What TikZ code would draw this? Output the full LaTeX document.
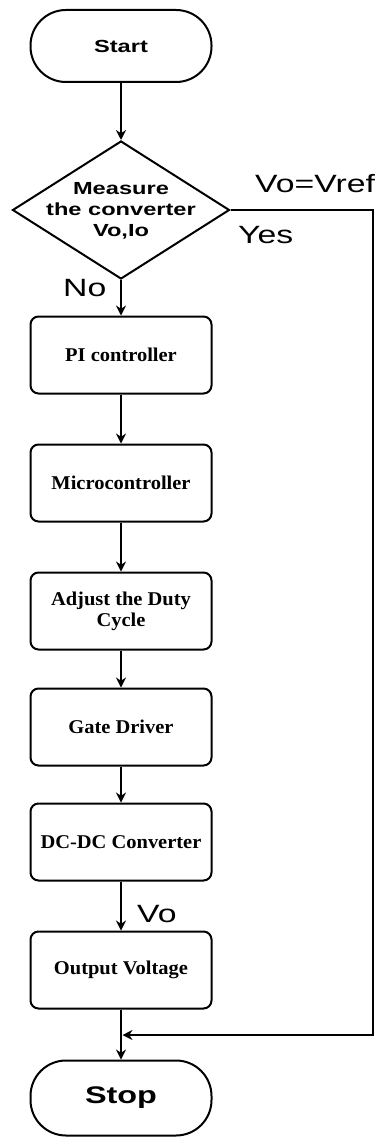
\documentclass[tikz,border=0pt]{standalone}
\usepackage{fontspec}
\setmainfont{Liberation Serif}
\newfontfamily\flowsans[FakeStretch=1.35]{Liberation Sans}
\newfontfamily\flowserif[FakeStretch=1.05]{Liberation Serif}
\usetikzlibrary{arrows.meta,shapes.geometric}

\tikzset{
        boxstep/.style={draw, line width=2pt, rounded corners=8pt, minimum width=181pt, minimum height=77pt, inner sep=2pt, align=center, font=\flowserif\bfseries\fontsize{19.5}{21}\selectfont},
        terminal/.style={draw, line width=2pt, rounded corners=35.5pt, minimum width=181pt, inner sep=0pt},
        decide/.style={draw, diamond, line width=2pt, minimum width=217pt, minimum height=138pt, inner sep=0pt},
        flow/.style={-{Stealth[length=10pt,width=10pt]}, line width=1.4pt},
        lbl/.style={anchor=west, inner sep=0pt, font=\flowsans\fontsize{25}{30}\selectfont}
}

\begin{document}
\begin{tikzpicture}[x=1pt,y=1pt,yscale=-1,xscale=1]
        \useasboundingbox (0,0) rectangle (385,1137); %set diagram to the 385 x 1137 frame

        %Shape: Terminator [id:start]
        \node [terminal, minimum height=72pt, font=\flowsans\bfseries\fontsize{17.5}{21}\selectfont] (start) at (121,46) {Start};
        %Shape: Diamond [id:dec]
        \node [decide] (dec) at (121,210) {};
        % Text Node
        \node [align=center, inner sep=0pt, font=\flowsans\bfseries\fontsize{17.5}{21}\selectfont] (dectext) at (121,211) {Measure\\the converter\\Vo,Io};
        %Shape: Rectangle [id:pi]
        \node [boxstep] (pi) at (121,355) {PI controller};
        %Shape: Rectangle [id:mcu]
        \node [boxstep] (mcu) at (121,483) {Microcontroller};
        %Shape: Rectangle [id:duty]
        \node [boxstep] (duty) at (121,611) {Adjust the Duty\\Cycle};
        %Shape: Rectangle [id:gate]
        \node [boxstep] (gate) at (121,727) {Gate Driver};
        %Shape: Rectangle [id:dcdc]
        \node [boxstep] (dcdc) at (121,842) {DC-DC Converter};
        %Shape: Rectangle [id:out]
        \node [boxstep] (out) at (121,970) {Output Voltage};
        %Shape: Terminator [id:stop]
        \node [terminal, minimum height=75pt, font=\flowsans\bfseries\fontsize{24}{28}\selectfont] (stop) at (121,1098) {Stop};

        %Straight Lines
        \draw [flow] (start) -- (dec);
        \draw [flow] (dec) -- (pi);
        \draw [flow] (pi) -- (mcu);
        \draw [flow] (mcu) -- (duty);
        \draw [flow] (duty) -- (gate);
        \draw [flow] (gate) -- (dcdc);
        \draw [flow] (dcdc) -- (out);
        \draw [flow] (out) -- (stop);
        %Yes branch back to the stop line
        \coordinate (loopc) at (373,1035);
        \coordinate (join) at (122.5,1035);
        \draw [flow, line width=1.3pt] (dec.east) -| (loopc) -- (join);

        % Text Node
        \node [lbl] (vref) at (255,184) {Vo=Vref};
        % Text Node
        \node [lbl] (yes) at (238,235) {Yes};
        % Text Node
        \node [lbl] (no) at (63,288) {No};
        % Text Node
        \node [lbl] (vo) at (137,914) {Vo};

\end{tikzpicture}
\end{document}
